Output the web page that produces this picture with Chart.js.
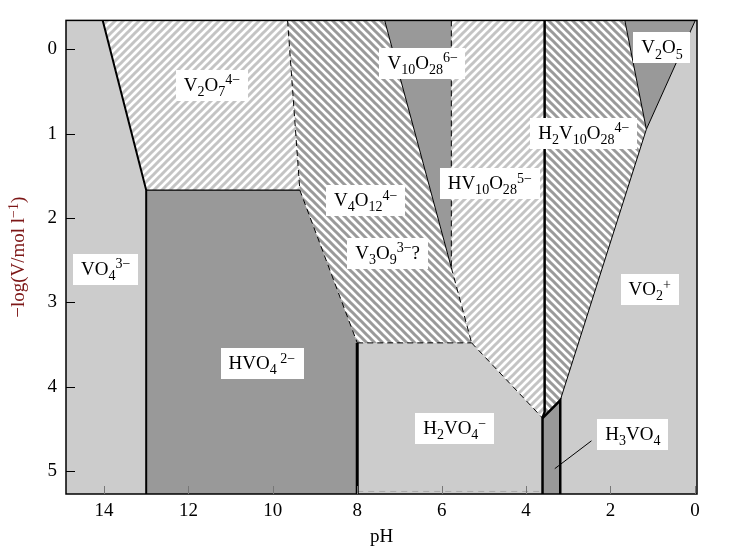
<!DOCTYPE html>
<html>
<head>
<meta charset="utf-8">
<script src="https://cdn.jsdelivr.net/npm/chart.js@4.4.0/dist/chart.umd.min.js"></script>
<style>
  html, body { margin: 0; padding: 0; background: #fff; }
</style>
</head>
<body>
<canvas id="c" width="736" height="557"></canvas>
<script>
// axis ticks and ranges
const xTicks = [14, 12, 10, 8, 6, 4, 2, 0];
const yTicks = [0, 1, 2, 3, 4, 5];
const pHRange = [-0.05, 14.9];
const logRange = [-0.34, 5.27];

// corner points of the predominance areas, [pH, -log c]
const A = [14.03, -0.34], B = [13.0, 1.67];
const C = [9.65, -0.34], D = [9.36, 1.67], E = [8.0, 3.48];
const F = [7.35, -0.34], G = [5.29, 3.48];
const H = [5.77, -0.34], I = [5.77, 2.59];
const K1 = [3.56, -0.34], K2 = [3.56, 4.30], L = [3.61, 4.37];
const M = [3.19, 4.16];
const N = [1.66, -0.34], O = [1.15, 0.95], P = [-0.01, -0.34];

const vo4Area = [[14.9, -0.34], A, B, [13.0, 5.27], [14.9, 5.27]];
const v2o7Area = [A, C, D, B];
const hvo4Area = [B, D, E, [8.0, 5.27], [13.0, 5.27]];
const v4o12Area = [C, F, G, E, D];
const v10o28Area = [F, H, I];
const hv10Area = [H, K1, K2, L, G, I];
const h2vo4Area = [E, G, L, [3.61, 5.27], [8.0, 5.27]];
const h2v10Area = [K1, N, O, M, L, K2];
const h3vo4Area = [L, M, [3.19, 5.27], [3.61, 5.27]];
const v2o5Area = [N, P, O];
const vo2Area = [O, P, [-0.05, -0.34], [-0.05, 5.27], [3.19, 5.27], M];

// boundary lines
const vo4Line = [A, B, [13.0, 5.27]];
const v2o7Base = [B, D];
const v2o7Edge = [C, D, E];
const pH8Line = [E, [8.0, 5.27]];
const h2vo4Top = [E, G];
const v10Left = [F, I];
const v10Lower = [I, G];
const v10Right = [H, I];
const hv10Lower = [G, L];
const centreLine = [K1, K2, L, [3.61, 5.27]];
const stripLine = [L, M, [3.19, 5.27]];
const h2v10Right = [N, O, M];
const v2o5Right = [O, P];
const baseDash = [[8.0, 5.24], [3.61, 5.24]];
const h3vo4Pointer = [[2.45, 4.64], [3.32, 4.97]];

// species labels
const speciesNames = ['VO_{4}^{3−}', 'V_{2}O_{7}^{4−}', 'HVO_{4}^{ 2−}', 'V_{4}O_{12}^{4−}', 'V_{3}O_{9}^{3−}?',
  'V_{10}O_{28}^{6−}', 'HV_{10}O_{28}^{5−}', 'H_{2}V_{10}O_{28}^{4−}', 'H_{2}VO_{4}^{−}', 'H_{3}VO_{4}',
  'V_{2}O_{5}', 'VO_{2}^{+}'];
const speciesPH = [13.96, 11.44, 10.26, 7.8, 7.28, 6.45, 4.86, 2.63, 5.69, 1.47, 0.78, 1.07];
const speciesLog = [2.6, 0.42, 3.72, 1.79, 2.41, 0.16, 1.59, 0.99, 4.49, 4.56, -0.02, 2.84];

const SERIF = '"Liberation Serif", "Times New Roman", serif';
const LIGHT = '#cccccc';
const DARK = '#999999';
const FONT_SIZE = 19;

function hatch(stripe, rising) {
    const s = 8;
    const c = document.createElement('canvas');
    c.width = s; c.height = s;
    const g = c.getContext('2d');
    g.fillStyle = '#fff';
    g.fillRect(0, 0, s, s);
    g.strokeStyle = stripe;
    g.lineWidth = 3;
    g.beginPath();
    if (rising) {
        g.moveTo(-s / 2, s / 2); g.lineTo(s / 2, -s / 2);
        g.moveTo(0, s); g.lineTo(s, 0);
        g.moveTo(s / 2, 1.5 * s); g.lineTo(1.5 * s, s / 2);
    } else {
        g.moveTo(-s / 2, s / 2); g.lineTo(s / 2, 1.5 * s);
        g.moveTo(0, 0); g.lineTo(s, s);
        g.moveTo(s / 2, -s / 2); g.lineTo(1.5 * s, s / 2);
    }
    g.stroke();
    return g.createPattern(c, 'repeat');
}

const ctx = document.getElementById('c').getContext('2d');
const lightHatch = hatch('#c4c4c4', true);
const darkHatch = hatch('#9a9a9a', false);

const toXY = pts => pts.map(p => ({ x: p[0], y: p[1] }));

function area(pts, fillStyle) {
    return {
        data: toXY(pts), fill: 'shape', backgroundColor: fillStyle,
        borderWidth: 0, pointRadius: 0, tension: 0, order: 10
    };
}

function edge(pts, width, dash, color) {
    return {
        data: toXY(pts), fill: false, borderColor: color || '#000',
        borderWidth: width, borderDash: dash || [], pointRadius: 0,
        tension: 0, order: 1, borderCapStyle: 'butt', borderJoinStyle: 'miter'
    };
}

const datasets = [
    area(vo4Area, LIGHT),
    area(v2o7Area, lightHatch),
    area(hvo4Area, DARK),
    area(v4o12Area, darkHatch),
    area(v10o28Area, DARK),
    area(hv10Area, lightHatch),
    area(h2vo4Area, LIGHT),
    area(h2v10Area, darkHatch),
    area(h3vo4Area, DARK),
    area(v2o5Area, DARK),
    area(vo2Area, LIGHT),
    edge(vo4Line, 2),
    edge(v2o7Base, 1.3),
    edge(v2o7Edge, 1, [6, 4]),
    edge(pH8Line, 3),
    edge(h2vo4Top, 1, [6, 4]),
    edge(v10Left, 1),
    edge(v10Lower, 1, [6, 4]),
    edge(v10Right, 1, [6, 4]),
    edge(hv10Lower, 1, [6, 4]),
    edge(centreLine, 2.5),
    edge(stripLine, 2.5),
    edge(h2v10Right, 1),
    edge(v2o5Right, 1),
    edge(baseDash, 1, [6, 5], '#aaaaaa'),
    edge(h3vo4Pointer, 1)
];

// rich text with _{sub} and ^{sup}
function parseRich(s) {
    const out = [];
    const re = /([_^])\{([^}]*)\}|([^_^]+)/g;
    let m;
    while ((m = re.exec(s))) {
        if (m[3]) out.push({ t: m[3], k: 0 });
        else out.push({ t: m[2], k: m[1] === '_' ? 1 : 2 });
    }
    return out;
}

function richWidth(g, parts, size) {
    let w = 0;
    parts.forEach(p => {
        g.font = (p.k ? size * 0.74 : size) + 'px ' + SERIF;
        w += g.measureText(p.t).width;
    });
    return w;
}

function drawRich(g, parts, x, baseY, size) {
    parts.forEach(p => {
        g.font = (p.k ? size * 0.74 : size) + 'px ' + SERIF;
        const dy = p.k === 1 ? size * 0.27 : p.k === 2 ? -size * 0.33 : 0;
        g.fillText(p.t, x, baseY + dy);
        x += g.measureText(p.t).width;
    });
}

const frameAndTicks = {
    id: 'frameAndTicks',
    afterDatasetsDraw(chart) {
        const { ctx: g, chartArea: a, scales: { x, y } } = chart;
        g.save();
        g.strokeStyle = '#000';
        g.lineWidth = 1.5;
        g.strokeRect(a.left, a.top, a.right - a.left, a.bottom - a.top);
        g.lineWidth = 1;
        yTicks.forEach(v => {
            const py = Math.round(y.getPixelForValue(v)) + 0.5;
            g.beginPath(); g.moveTo(a.left, py); g.lineTo(a.left + 9, py); g.stroke();
        });
        g.strokeStyle = '#777';
        xTicks.forEach(v => {
            const px = Math.round(x.getPixelForValue(v)) + 0.5;
            g.beginPath(); g.moveTo(px, a.bottom); g.lineTo(px, a.bottom - 8); g.stroke();
        });
        g.restore();
    }
};

const speciesBoxes = {
    id: 'speciesBoxes',
    afterDatasetsDraw(chart) {
        const { ctx: g, scales: { x, y } } = chart;
        const size = FONT_SIZE;
        g.save();
        g.textBaseline = 'alphabetic';
        g.textAlign = 'left';
        speciesNames.forEach((name, i) => {
            const parts = parseRich(name);
            const w = richWidth(g, parts, size);
            const cx = x.getPixelForValue(speciesPH[i]);
            const cy = y.getPixelForValue(speciesLog[i]);
            g.fillStyle = '#fff';
            g.fillRect(Math.round(cx - w / 2 - 8), Math.round(cy - 15), Math.round(w + 16), 31);
            g.fillStyle = '#000';
            drawRich(g, parts, cx - w / 2, cy + 6, size);
        });
        g.restore();
    }
};

const yTitle = {
    id: 'yTitle',
    afterDraw(chart) {
        const { ctx: g, chartArea: a } = chart;
        const parts = parseRich('−log(V/mol l^{−1})');
        const size = FONT_SIZE;
        g.save();
        g.translate(18, (a.top + a.bottom) / 2);
        g.rotate(-Math.PI / 2);
        g.fillStyle = '#7d1717';
        const w = richWidth(g, parts, size);
        drawRich(g, parts, -w / 2, 6, size);
        g.restore();
    }
};

new Chart(ctx, {
    type: 'line',
    data: { datasets },
    options: {
        responsive: false,
        animation: false,
        layout: { padding: { left: 0, right: 39, top: 17, bottom: 0 } },
        plugins: {
            legend: { display: false },
            tooltip: { enabled: false }
        },
        scales: {
            x: {
                type: 'linear',
                reverse: true,
                min: pHRange[0],
                max: pHRange[1],
                afterBuildTicks: s => { s.ticks = xTicks.map(v => ({ value: v })); },
                afterFit: s => { s.height = 63; },
                grid: { display: false, drawTicks: false },
                border: { display: false },
                ticks: { color: '#000', padding: 6, font: { family: SERIF, size: FONT_SIZE } },
                title: { display: true, text: 'pH', color: '#000', padding: { top: 0, bottom: 9 }, font: { family: SERIF, size: FONT_SIZE } }
            },
            y: {
                type: 'linear',
                reverse: true,
                min: logRange[0],
                max: logRange[1],
                afterBuildTicks: s => { s.ticks = yTicks.map(v => ({ value: v })); },
                afterFit: s => { s.width = 66; },
                grid: { display: false, drawTicks: false },
                border: { display: false },
                ticks: { color: '#000', padding: 9, font: { family: SERIF, size: FONT_SIZE } }
            }
        }
    },
    plugins: [frameAndTicks, speciesBoxes, yTitle]
});
</script>
</body>
</html>
